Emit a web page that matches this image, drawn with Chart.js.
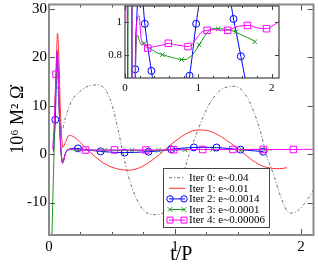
<!DOCTYPE html>
<html>
<head>
<meta charset="utf-8">
<script src="https://cdn.jsdelivr.net/npm/chart.js"></script>
<style>
  html, body { margin: 0; padding: 0; background: #fff; }
  #wrap { position: relative; width: 318px; height: 267px; }
  #main { position: absolute; left: 0; top: 0; }
  #inset { position: absolute; left: 95px; top: 0; }
</style>
</head>
<body>
<div id="wrap">
  <canvas id="main" width="318" height="267"></canvas>
  <canvas id="inset" width="190" height="95"></canvas>
</div>
<script>
// Iter 0 (e~0.04)
const iter0T = [0.07, 0.085, 0.10, 0.13, 0.18, 0.24, 0.30, 0.38, 0.45, 0.50, 0.545, 0.585, 0.63, 0.69, 0.76, 0.85, 0.93, 1.00, 1.06, 1.12, 1.19, 1.27, 1.36, 1.47, 1.56, 1.63, 1.68, 1.73, 1.78, 1.84, 1.91, 1.97, 2.04, 2.12];
const iter0V = [14, 8, 4.8, 7.5, 11, 12.8, 13.9, 14.3, 13.2, 10.2, 5.5, 0.5, -4.5, -9, -11.8, -12.5, -11.6, -8.8, -4.5, 0.5, 5.5, 10.2, 13.2, 14, 12.3, 8.5, 4.5, -0.5, -4, -8.8, -12.2, -11.8, -9.8, -6.5];

// Iter 1 (e~0.01)
const iter1T = [0.047, 0.058, 0.068, 0.078, 0.088, 0.098, 0.11, 0.13, 0.16, 0.20, 0.28, 0.36, 0.45, 0.55, 0.64, 0.72, 0.80, 0.88, 0.96, 1.04, 1.12, 1.20, 1.28, 1.36, 1.44, 1.52, 1.60, 1.68, 1.76, 1.83, 1.89];
const iter1V = [10, 19, 25, 20, 11, 4.5, 1.4, 2.4, 3.9, 3.5, 1.6, -0.4, -2.1, -3.1, -3.3, -2.8, -1.6, 0, 1.8, 3.4, 4.6, 5, 4.7, 3.7, 2.3, 0.7, -1, -2.3, -2.9, -3, -2.8];

// Iter 2 (e~0.0014)
const iter2T = [0.035, 0.05, 0.058, 0.065, 0.072, 0.08, 0.09, 0.10, 0.107, 0.115, 0.125, 0.14, 0.16, 0.19, 0.23, 0.27, 0.36, 0.41, 0.48, 0.54, 0.60, 0.68, 0.79, 0.88, 0.97, 1.05, 1.15, 1.24, 1.33, 1.42, 1.48, 1.52, 1.58, 1.64, 1.70];
const iter2V = [0.5, 7.1, 15, 21, 17, 10, 3, -0.8, -1.8, -1.4, -0.3, 0.71, 1.02, 1.2, 1.18, 0.99, 0.70, 0.57, 0.43, 0.35, 0.32, 0.36, 0.5, 0.67, 0.99, 1.22, 1.38, 1.42, 1.36, 1.18, 1.02, 0.93, 0.79, 0.65, 0.52];

// Iter 3 (e~0.0001)
const iter3T = [0.02, 0.032, 0.04, 0.048, 0.058, 0.066, 0.074, 0.082, 0.09, 0.10, 0.108, 0.116, 0.126, 0.14, 0.17, 0.20, 0.23, 0.26, 0.30, 0.37, 0.44, 0.51, 0.58, 0.66, 0.77, 0.83, 0.87, 0.94, 1.01, 1.08, 1.14, 1.20, 1.27, 1.30, 1.40, 1.51, 1.53, 1.62, 1.72, 1.77];
const iter3V = [-20, -8, 1, 10, 16, 19, 15, 9, 3, -0.5, -1.7, -1.3, -0.2, 0.6, 0.92, 0.88, 0.86, 0.87, 0.85, 0.83, 0.81, 0.80, 0.79, 0.78, 0.77, 0.77, 0.78, 0.81, 0.86, 0.91, 0.945, 0.96, 0.96, 0.96, 0.955, 0.94, 0.935, 0.915, 0.895, 0.88];

// Iter 4 (e~0.00006)
const iter4T = [0.03, 0.045, 0.056, 0.065, 0.073, 0.08, 0.09, 0.10, 0.107, 0.115, 0.125, 0.14, 0.16, 0.19, 0.22, 0.26, 0.29, 0.31, 0.40, 0.52, 0.59, 0.70, 0.77, 0.86, 0.93, 0.99, 1.05, 1.12, 1.22, 1.30, 1.40, 1.46, 1.55, 1.67, 1.70, 1.80, 1.93, 1.94, 2.02, 2.12];
const iter4V = [1, 8.5, 16.5, 21.5, 17, 10.5, 3, -0.8, -1.9, -1.5, -0.3, 0.6, 1.0, 1.04, 0.9, 0.86, 0.85, 0.84, 0.85, 0.86, 0.87, 0.86, 0.855, 0.85, 0.87, 0.91, 0.94, 0.95, 0.955, 0.95, 0.95, 0.96, 0.975, 0.98, 0.98, 0.965, 0.96, 0.96, 0.98, 1.01];

// where the symbols sit (main plot / inset)
const iter2MainMarks = [0.05, 0.23, 0.41, 0.60, 0.79, 0.97, 1.15, 1.33, 1.52, 1.70];
const iter2InsetMarks = [0.14, 0.27, 0.36, 0.88, 0.97, 1.48, 1.58];
const iter3MainMarks = [0.23, 0.44, 0.66, 0.87, 1.08, 1.30, 1.53, 1.72];
const iter3InsetMarks = [0.26, 0.51, 0.77, 1.01, 1.27, 1.51, 1.77];
const iter4MainMarks = [0.056, 0.29, 0.52, 0.77, 0.99, 1.22, 1.46, 1.70, 1.94];
const iter4InsetMarks = [0.31, 0.59, 0.86, 1.12, 1.40, 1.67, 1.93];

const seriesLabels = ['Iter 0: e~0.04', 'Iter 1: e~0.01', 'Iter 2: e~0.0014', 'Iter 3: e~0.0001', 'Iter 4: e~0.00006'];

const mainXTicks = [0, 1, 2];
const mainYTicks = [-10, 0, 10, 20, 30];
const insetXTicks = [0, 1, 2];
const insetYTicks = [0.8, 1];

const serif = 'Liberation Serif';

function pts(T, V) {
  return T.map((t, i) => ({ x: t, y: V[i] }));
}

function marker(list, r) {
  return ctx => (ctx.raw && list.includes(ctx.raw.x)) ? r : 0;
}

function buildDatasets(inset) {
  const common = { borderWidth: 1, cubicInterpolationMode: 'monotone', pointBorderWidth: 1, pointBackgroundColor: 'rgba(0,0,0,0)', pointHoverRadius: 0 };
  const list = [
    { ...common, label: seriesLabels[0], data: pts(iter0T, iter0V), borderColor: 'rgba(0,0,0,0.7)', borderWidth: 0.8,
      borderDash: [3, 2, 1, 2], pointRadius: 0, order: 5 },
    { ...common, label: seriesLabels[1], data: pts(iter1T, iter1V), borderColor: '#ff3030', pointRadius: 0, order: 4 },
    { ...common, label: seriesLabels[2], data: pts(iter2T, iter2V), borderColor: '#0000ff', pointBorderColor: '#0000ff',
      pointStyle: 'circle', pointRadius: marker(inset ? iter2InsetMarks : iter2MainMarks, 3.5), order: 3 },
    { ...common, label: seriesLabels[3], data: pts(iter3T, iter3V), borderColor: '#1a9a1a', pointBorderColor: '#1a9a1a',
      pointStyle: 'crossRot', pointRadius: marker(inset ? iter3InsetMarks : iter3MainMarks, 3.2), order: 2 },
    { ...common, label: seriesLabels[4], data: pts(iter4T, iter4V), borderColor: '#ff00ff', pointBorderColor: '#ff00ff',
      pointStyle: 'rect', pointRadius: marker(inset ? iter4InsetMarks : iter4MainMarks, 4.6), order: 1 }
  ];
  // the inset only zooms on the last three iterations
  return inset ? list.slice(2) : list;
}

// box round the plot area with inward ticks on all four sides
const framePlugin = {
  id: 'frame',
  beforeDatasetsDraw(chart, args, o) {
    if (!o.fill) return;
    const a = chart.chartArea;
    chart.ctx.save();
    chart.ctx.fillStyle = o.fill;
    chart.ctx.fillRect(a.left, a.top, a.right - a.left, a.bottom - a.top);
    chart.ctx.restore();
  },
  afterDatasetsDraw(chart, args, o) {
    const { ctx, chartArea: a, scales: { x, y } } = chart;
    ctx.save();
    ctx.strokeStyle = o.tickColor;
    ctx.lineWidth = 1;
    ctx.beginPath();
    for (let k = 0; k * o.xMinor <= x.max + 1e-9; k++) {
      const v = k * o.xMinor;
      const len = Math.abs(v - Math.round(v)) < 1e-6 ? o.major : o.minor;
      const px = Math.round(x.getPixelForValue(v)) + 0.5;
      ctx.moveTo(px, a.bottom); ctx.lineTo(px, a.bottom - len);
      ctx.moveTo(px, a.top); ctx.lineTo(px, a.top + len);
    }
    o.yTicks.forEach(v => {
      const py = Math.round(y.getPixelForValue(v)) + 0.5;
      ctx.moveTo(a.left, py); ctx.lineTo(a.left + o.major, py);
      ctx.moveTo(a.right, py); ctx.lineTo(a.right - o.major, py);
    });
    ctx.stroke();
    ctx.strokeStyle = o.color;
    ctx.lineWidth = o.width;
    ctx.strokeRect(a.left, a.top, a.right - a.left, a.bottom - a.top);
    ctx.restore();
  }
};

// legend box drawn inside the plot
const legendBox = {
  id: 'legendBox',
  afterDraw(chart) {
    const ctx = chart.ctx;
    const bx = 163.5, by = 168.5, bw = 106, bh = 59;
    ctx.save();
    ctx.fillStyle = '#fff';
    ctx.fillRect(bx, by, bw, bh);
    ctx.strokeStyle = '#444';
    ctx.lineWidth = 1;
    ctx.strokeRect(bx, by, bw, bh);
    ctx.font = '11px "' + serif + '"';
    ctx.textBaseline = 'middle';
    chart.data.datasets.forEach((ds, i) => {
      const yy = 177.7 + i * 10.6;
      const x0 = 169, x1 = 185;
      ctx.save();
      ctx.strokeStyle = ds.borderColor;
      ctx.lineWidth = ds.borderWidth;
      ctx.setLineDash(ds.borderDash || []);
      ctx.beginPath();
      ctx.moveTo(x0, yy); ctx.lineTo(x1, yy);
      ctx.stroke();
      ctx.restore();
      if (ds.pointStyle) {
        const opts = { pointStyle: ds.pointStyle, radius: ds.pointStyle === 'rect' ? 4.2 : 3.2, rotation: 0, borderWidth: 1 };
        ctx.save();
        ctx.strokeStyle = ds.pointBorderColor;
        ctx.fillStyle = 'rgba(0,0,0,0)';
        ctx.lineWidth = 1;
        Chart.helpers.drawPoint(ctx, opts, x0 + 1, yy);
        Chart.helpers.drawPoint(ctx, opts, x1 - 1, yy);
        ctx.restore();
      }
      ctx.fillStyle = '#000';
      ctx.fillText(ds.label, 189, yy + 0.5);
    });
    ctx.restore();
  }
};

function fixedTicks(list) {
  return scale => { scale.ticks = list.map(v => ({ value: v })); };
}

new Chart(document.getElementById('main'), {
  type: 'line',
  data: { datasets: buildDatasets(false) },
  options: {
    responsive: false,
    animation: false,
    events: [],
    layout: { padding: { top: 2, right: 3, left: 0, bottom: 0 } },
    plugins: {
      legend: { display: false },
      tooltip: { enabled: false },
      frame: { color: '#8a8a8a', width: 2, tickColor: '#555', major: 6, minor: 3, xMinor: 0.25, yTicks: mainYTicks }
    },
    scales: {
      x: {
        type: 'linear', min: 0, max: 2.1,
        grid: { display: false, drawTicks: false },
        border: { display: false },
        afterBuildTicks: fixedTicks(mainXTicks),
        afterFit: s => { s.height = 32; s.paddingLeft = 0; s.paddingRight = 0; },
        ticks: { font: { family: serif, size: 15 }, color: '#000', padding: 3, maxRotation: 0 },
        title: { display: true, text: 't/P', font: { family: serif, size: 20 }, color: '#000', padding: { top: 0, bottom: 0 } }
      },
      y: {
        type: 'linear', min: -16.7, max: 30.9,
        grid: { display: false, drawTicks: false },
        border: { display: false },
        afterBuildTicks: fixedTicks(mainYTicks),
        afterFit: s => { s.width = 49; s.paddingTop = 0; s.paddingBottom = 0; },
        ticks: { font: { family: serif, size: 15 }, color: '#000', padding: 2 },
        title: { display: true, text: '10\u2076 M\u00B2 \u03A9\u0307', font: { family: serif, size: 18 }, color: '#000', padding: { top: 7, bottom: 0 } }
      }
    }
  },
  plugins: [framePlugin, legendBox]
});

new Chart(document.getElementById('inset'), {
  type: 'line',
  data: { datasets: buildDatasets(true) },
  options: {
    responsive: false,
    animation: false,
    events: [],
    layout: { padding: { top: 6, right: 6, left: 0, bottom: 0 } },
    plugins: {
      legend: { display: false },
      tooltip: { enabled: false },
      frame: { color: '#444', width: 1.2, tickColor: '#444', major: 4, minor: 2, xMinor: 0.2, yTicks: insetYTicks, fill: '#fff' }
    },
    scales: {
      x: {
        type: 'linear', min: 0, max: 2.1,
        grid: { display: false, drawTicks: false },
        border: { display: false },
        afterBuildTicks: fixedTicks(insetXTicks),
        afterFit: s => { s.height = 17; s.paddingLeft = 0; s.paddingRight = 0; },
        ticks: { font: { family: serif, size: 11 }, color: '#000', padding: 4, maxRotation: 0 }
      },
      y: {
        type: 'linear', min: 0.656, max: 1.1,
        grid: { display: false, drawTicks: false },
        border: { display: false },
        afterBuildTicks: fixedTicks(insetYTicks),
        afterFit: s => { s.width = 30; s.paddingTop = 0; s.paddingBottom = 0; },
        ticks: { font: { family: serif, size: 11 }, color: '#000', padding: 3, callback: v => String(v) }
      }
    }
  },
  plugins: [framePlugin]
});
</script>
</body>
</html>
